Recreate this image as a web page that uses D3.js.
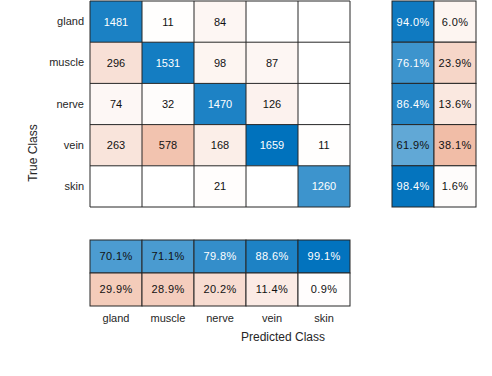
<!DOCTYPE html>
<html>
<head>
<meta charset="utf-8">
<script src="https://cdn.jsdelivr.net/npm/d3@7"></script>
<style>
  body { margin: 0; background: #fff; overflow: hidden; }
  svg { display: block; }
</style>
</head>
<body>
<div id="chart"></div>
<script>
// Data
const classes = ["gland", "muscle", "nerve", "vein", "skin"];
// rows = true class, columns = predicted class (0 = empty cell)
const glandRow  = [1481, 11, 84, 0, 0];
const muscleRow = [296, 1531, 98, 87, 0];
const nerveRow  = [74, 32, 1470, 126, 0];
const veinRow   = [263, 578, 168, 1659, 11];
const skinRow   = [0, 0, 21, 0, 1260];
const counts = [glandRow, muscleRow, nerveRow, veinRow, skinRow];

// row summary (true positive rate / false negative rate)
const rowCorrect = [94.0, 76.1, 86.4, 61.9, 98.4];
const rowWrong   = [6.0, 23.9, 13.6, 38.1, 1.6];
// column summary (precision / false discovery rate)
const colCorrect = [70.1, 71.1, 79.8, 88.6, 99.1];
const colWrong   = [29.9, 28.9, 20.2, 11.4, 0.9];

const width = 492, height = 376;
const blue = [0, 114, 189], orange = [217, 83, 25];
const lineColor = "#262626";
const font = "'Liberation Sans', Arial, Helvetica, sans-serif";

function tint(rgb, a) {
  const c = rgb.map(v => Math.round(255 - a * (255 - v)));
  return `rgb(${c[0]},${c[1]},${c[2]})`;
}

const svg = d3.select("#chart").append("svg")
  .attr("width", width)
  .attr("height", height);

// Scales
const x = d3.scaleBand().domain(classes).range([90, 350]);
const y = d3.scaleBand().domain(classes).range([1, 207]);
const xs = d3.scaleBand().domain(["ok", "bad"]).range([392, 476]);
const ys = d3.scaleBand().domain(["ok", "bad"]).range([240, 306]);

const maxCount = d3.max(counts.flat());

// Main matrix cells
const cells = [];
counts.forEach((row, i) => row.forEach((v, j) => {
  cells.push({ r: classes[i], c: classes[j], v, diag: i === j });
}));

const main = svg.append("g");
const cg = main.selectAll("g.cell").data(cells).enter().append("g");
cg.append("rect")
  .attr("x", d => x(d.c))
  .attr("y", d => y(d.r))
  .attr("width", x.bandwidth())
  .attr("height", y.bandwidth())
  .attr("fill", d => d.v === 0 ? "#fff" : tint(d.diag ? blue : orange, d.v / maxCount));
cg.filter(d => d.v > 0).append("text")
  .attr("x", d => x(d.c) + x.bandwidth() / 2)
  .attr("y", d => y(d.r) + y.bandwidth() / 2)
  .attr("dy", "0.36em")
  .attr("text-anchor", "middle")
  .style("font-family", font)
  .style("font-size", "11px")
  .attr("fill", d => d.diag && d.v / maxCount > 0.7 ? "#fff" : "#111")
  .text(d => d.v);

// grid lines of main matrix
const grid = main.append("g").attr("stroke", lineColor).attr("stroke-width", 1);
[...classes.map(c => x(c)), 350].forEach(px => {
  grid.append("line").attr("x1", px).attr("x2", px).attr("y1", 1).attr("y2", 207);
});
[...classes.map(c => y(c)), 207].forEach(py => {
  grid.append("line").attr("x1", 90).attr("x2", 350).attr("y1", py).attr("y2", py);
});

// Row summary (right)
const rowSum = [];
classes.forEach((c, i) => {
  rowSum.push({ r: c, k: "ok", v: rowCorrect[i] });
  rowSum.push({ r: c, k: "bad", v: rowWrong[i] });
});
const rs = svg.append("g");
const rg = rs.selectAll("g").data(rowSum).enter().append("g");
rg.append("rect")
  .attr("x", d => xs(d.k))
  .attr("y", d => y(d.r))
  .attr("width", xs.bandwidth())
  .attr("height", y.bandwidth())
  .attr("fill", d => tint(d.k === "ok" ? blue : orange, d.v / 100))
  .attr("stroke", lineColor);
rg.append("text")
  .attr("x", d => xs(d.k) + xs.bandwidth() / 2)
  .attr("y", d => y(d.r) + y.bandwidth() / 2)
  .attr("dy", "0.36em")
  .attr("text-anchor", "middle")
  .style("font-family", font)
  .style("font-size", "11px")
  .style("letter-spacing", "0.4px")
  .attr("fill", d => d.k === "ok" && d.v > 70 ? "#fff" : "#111")
  .text(d => d.v.toFixed(1) + "%");

// Column summary (bottom)
const colSum = [];
classes.forEach((c, j) => {
  colSum.push({ c, k: "ok", v: colCorrect[j] });
  colSum.push({ c, k: "bad", v: colWrong[j] });
});
const cs = svg.append("g");
const bg = cs.selectAll("g").data(colSum).enter().append("g");
bg.append("rect")
  .attr("x", d => x(d.c))
  .attr("y", d => ys(d.k))
  .attr("width", x.bandwidth())
  .attr("height", ys.bandwidth())
  .attr("fill", d => tint(d.k === "ok" ? blue : orange, d.v / 100))
  .attr("stroke", lineColor);
bg.append("text")
  .attr("x", d => x(d.c) + x.bandwidth() / 2)
  .attr("y", d => ys(d.k) + ys.bandwidth() / 2)
  .attr("dy", "0.36em")
  .attr("text-anchor", "middle")
  .style("font-family", font)
  .style("font-size", "11px")
  .style("letter-spacing", "0.4px")
  .attr("fill", d => d.k === "ok" && d.v > 75 ? "#fff" : "#111")
  .text(d => d.v.toFixed(1) + "%");

// Axes (labels only)
const yAxis = svg.append("g")
  .attr("transform", "translate(90,0)")
  .call(d3.axisLeft(y).tickSize(0).tickPadding(6));
const xAxis = svg.append("g")
  .attr("transform", "translate(0,306)")
  .call(d3.axisBottom(x).tickSize(0).tickPadding(8));
[yAxis, xAxis].forEach(a => {
  a.select(".domain").remove();
  a.selectAll("text")
    .style("font-family", font)
    .style("font-size", "11px")
    .attr("fill", "#262626");
});

// Axis titles
svg.append("text")
  .attr("transform", "translate(37,153) rotate(-90)")
  .attr("text-anchor", "middle")
  .style("font-family", font)
  .style("font-size", "12px")
  .attr("fill", "#262626")
  .text("True Class");

svg.append("text")
  .attr("x", 283)
  .attr("y", 341)
  .attr("text-anchor", "middle")
  .style("font-family", font)
  .style("font-size", "12px")
  .attr("fill", "#262626")
  .text("Predicted Class");

// Cropped caption line of the source page (only its top edge is in view)
svg.append("text")
  .attr("x", 8)
  .attr("y", 390)
  .style("font-family", "'Liberation Serif', 'Times New Roman', serif")
  .style("font-size", "18px")
  .style("letter-spacing", "1px")
  .attr("fill", "#111")
  .text("Figure 6: the confusion matrix of the tissue classification results");
</script>
</body>
</html>
